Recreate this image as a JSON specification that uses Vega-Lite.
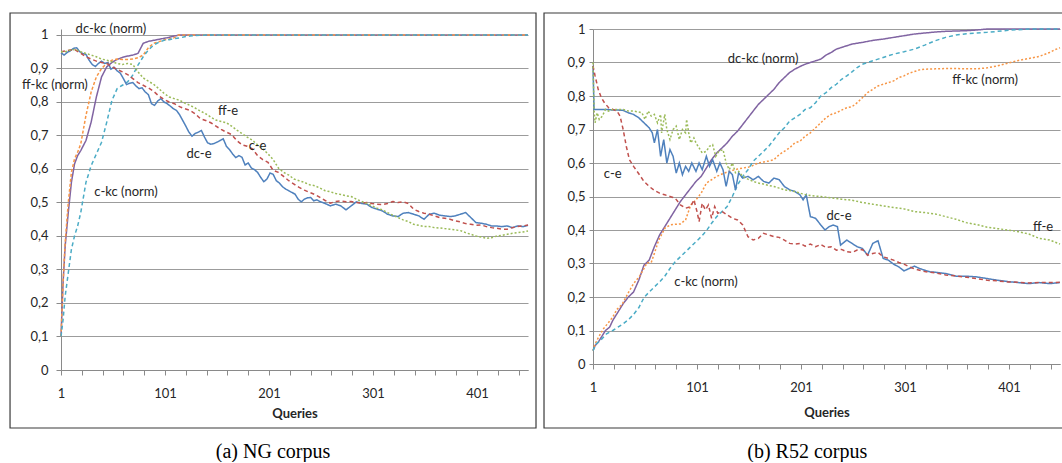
{
  "$schema": "https://vega.github.io/schema/vega-lite/v6.json",
  "padding": {"left": 9, "top": 12, "right": 0, "bottom": 0},
  "background": "white",
  "spacing": 6,
  "config": {
    "view": {"stroke": null},
    "axis": {"labelFont": "Lato", "titleFont": "Lato", "labelFontSize": 13, "labelColor": "#262626", "titleColor": "#262626", "gridColor": "#9c9c9c", "gridWidth": 1.2, "domainColor": "#8a8a8a", "tickColor": "#8a8a8a", "labelOverlap": false, "labelFlush": false},
    "text": {"font": "Lato", "fontSize": 13, "color": "#262626"}
  },
  "datasets": {
    "ng": [
      {"s":"dk","x":1,"y":0.1},{"s":"dk","x":3,"y":0.26},{"s":"dk","x":5,"y":0.37},{"s":"dk","x":8,"y":0.47},{"s":"dk","x":11,"y":0.56},{"s":"dk","x":14,"y":0.615},{"s":"dk","x":17,"y":0.64},{"s":"dk","x":20,"y":0.655},{"s":"dk","x":25,"y":0.685},{"s":"dk","x":30,"y":0.74},{"s":"dk","x":35,"y":0.815},{"s":"dk","x":40,"y":0.875},{"s":"dk","x":45,"y":0.905},{"s":"dk","x":50,"y":0.918},{"s":"dk","x":55,"y":0.927},{"s":"dk","x":60,"y":0.933},{"s":"dk","x":65,"y":0.937},{"s":"dk","x":70,"y":0.94},{"s":"dk","x":75,"y":0.945},{"s":"dk","x":80,"y":0.975},{"s":"dk","x":85,"y":0.981},{"s":"dk","x":90,"y":0.984},{"s":"dk","x":95,"y":0.987},{"s":"dk","x":100,"y":0.99},{"s":"dk","x":105,"y":0.993},{"s":"dk","x":110,"y":0.997},{"s":"dk","x":115,"y":1},{"s":"dk","x":450,"y":1},
      {"s":"fk","x":1,"y":0.1},{"s":"fk","x":3,"y":0.26},{"s":"fk","x":5,"y":0.38},{"s":"fk","x":8,"y":0.5},{"s":"fk","x":11,"y":0.59},{"s":"fk","x":14,"y":0.63},{"s":"fk","x":17,"y":0.65},{"s":"fk","x":20,"y":0.675},{"s":"fk","x":25,"y":0.76},{"s":"fk","x":30,"y":0.83},{"s":"fk","x":35,"y":0.875},{"s":"fk","x":40,"y":0.9},{"s":"fk","x":45,"y":0.915},{"s":"fk","x":50,"y":0.925},{"s":"fk","x":55,"y":0.928},{"s":"fk","x":60,"y":0.927},{"s":"fk","x":65,"y":0.927},{"s":"fk","x":70,"y":0.928},{"s":"fk","x":75,"y":0.932},{"s":"fk","x":80,"y":0.94},{"s":"fk","x":85,"y":0.962},{"s":"fk","x":90,"y":0.975},{"s":"fk","x":95,"y":0.98},{"s":"fk","x":100,"y":0.985},{"s":"fk","x":105,"y":0.988},{"s":"fk","x":110,"y":0.992},{"s":"fk","x":114,"y":1},{"s":"fk","x":450,"y":1},
      {"s":"ck","x":1,"y":0.1},{"s":"ck","x":3,"y":0.15},{"s":"ck","x":5,"y":0.22},{"s":"ck","x":8,"y":0.29},{"s":"ck","x":11,"y":0.36},{"s":"ck","x":14,"y":0.4},{"s":"ck","x":17,"y":0.43},{"s":"ck","x":20,"y":0.47},{"s":"ck","x":25,"y":0.56},{"s":"ck","x":30,"y":0.61},{"s":"ck","x":35,"y":0.645},{"s":"ck","x":40,"y":0.68},{"s":"ck","x":45,"y":0.74},{"s":"ck","x":50,"y":0.805},{"s":"ck","x":55,"y":0.84},{"s":"ck","x":60,"y":0.85},{"s":"ck","x":65,"y":0.86},{"s":"ck","x":70,"y":0.88},{"s":"ck","x":75,"y":0.91},{"s":"ck","x":80,"y":0.935},{"s":"ck","x":85,"y":0.955},{"s":"ck","x":90,"y":0.97},{"s":"ck","x":95,"y":0.978},{"s":"ck","x":100,"y":0.984},{"s":"ck","x":105,"y":0.986},{"s":"ck","x":110,"y":0.989},{"s":"ck","x":115,"y":0.991},{"s":"ck","x":120,"y":0.995},{"s":"ck","x":125,"y":0.997},{"s":"ck","x":130,"y":0.998},{"s":"ck","x":135,"y":0.999},{"s":"ck","x":142,"y":1},{"s":"ck","x":450,"y":1},
      {"s":"de","x":1,"y":0.947},{"s":"de","x":4,"y":0.94},{"s":"de","x":7,"y":0.948},{"s":"de","x":10,"y":0.953},{"s":"de","x":13,"y":0.96},{"s":"de","x":16,"y":0.962},{"s":"de","x":19,"y":0.95},{"s":"de","x":22,"y":0.945},{"s":"de","x":25,"y":0.942},{"s":"de","x":28,"y":0.925},{"s":"de","x":31,"y":0.912},{"s":"de","x":34,"y":0.906},{"s":"de","x":37,"y":0.915},{"s":"de","x":40,"y":0.922},{"s":"de","x":43,"y":0.915},{"s":"de","x":46,"y":0.918},{"s":"de","x":49,"y":0.898},{"s":"de","x":52,"y":0.904},{"s":"de","x":55,"y":0.893},{"s":"de","x":58,"y":0.886},{"s":"de","x":61,"y":0.87},{"s":"de","x":64,"y":0.852},{"s":"de","x":67,"y":0.856},{"s":"de","x":70,"y":0.858},{"s":"de","x":73,"y":0.848},{"s":"de","x":76,"y":0.84},{"s":"de","x":79,"y":0.842},{"s":"de","x":82,"y":0.83},{"s":"de","x":85,"y":0.822},{"s":"de","x":88,"y":0.795},{"s":"de","x":91,"y":0.79},{"s":"de","x":94,"y":0.803},{"s":"de","x":97,"y":0.81},{"s":"de","x":100,"y":0.8},{"s":"de","x":103,"y":0.795},{"s":"de","x":106,"y":0.788},{"s":"de","x":109,"y":0.78},{"s":"de","x":112,"y":0.775},{"s":"de","x":115,"y":0.762},{"s":"de","x":118,"y":0.745},{"s":"de","x":121,"y":0.728},{"s":"de","x":124,"y":0.71},{"s":"de","x":127,"y":0.698},{"s":"de","x":130,"y":0.706},{"s":"de","x":133,"y":0.71},{"s":"de","x":136,"y":0.715},{"s":"de","x":139,"y":0.695},{"s":"de","x":142,"y":0.678},{"s":"de","x":145,"y":0.674},{"s":"de","x":148,"y":0.676},{"s":"de","x":151,"y":0.68},{"s":"de","x":154,"y":0.685},{"s":"de","x":157,"y":0.69},{"s":"de","x":160,"y":0.668},{"s":"de","x":163,"y":0.658},{"s":"de","x":166,"y":0.645},{"s":"de","x":169,"y":0.634},{"s":"de","x":172,"y":0.64},{"s":"de","x":175,"y":0.635},{"s":"de","x":178,"y":0.612},{"s":"de","x":181,"y":0.618},{"s":"de","x":184,"y":0.603},{"s":"de","x":187,"y":0.598},{"s":"de","x":190,"y":0.59},{"s":"de","x":193,"y":0.575},{"s":"de","x":196,"y":0.562},{"s":"de","x":199,"y":0.57},{"s":"de","x":202,"y":0.588},{"s":"de","x":205,"y":0.584},{"s":"de","x":208,"y":0.565},{"s":"de","x":211,"y":0.558},{"s":"de","x":214,"y":0.547},{"s":"de","x":217,"y":0.54},{"s":"de","x":220,"y":0.535},{"s":"de","x":223,"y":0.53},{"s":"de","x":226,"y":0.525},{"s":"de","x":229,"y":0.51},{"s":"de","x":232,"y":0.502},{"s":"de","x":235,"y":0.51},{"s":"de","x":238,"y":0.514},{"s":"de","x":241,"y":0.515},{"s":"de","x":244,"y":0.505},{"s":"de","x":247,"y":0.508},{"s":"de","x":250,"y":0.503},{"s":"de","x":255,"y":0.497},{"s":"de","x":260,"y":0.49},{"s":"de","x":265,"y":0.495},{"s":"de","x":270,"y":0.49},{"s":"de","x":275,"y":0.478},{"s":"de","x":280,"y":0.49},{"s":"de","x":285,"y":0.502},{"s":"de","x":290,"y":0.497},{"s":"de","x":295,"y":0.495},{"s":"de","x":300,"y":0.485},{"s":"de","x":305,"y":0.48},{"s":"de","x":310,"y":0.475},{"s":"de","x":315,"y":0.465},{"s":"de","x":320,"y":0.46},{"s":"de","x":325,"y":0.458},{"s":"de","x":330,"y":0.468},{"s":"de","x":335,"y":0.47},{"s":"de","x":340,"y":0.465},{"s":"de","x":345,"y":0.46},{"s":"de","x":350,"y":0.45},{"s":"de","x":355,"y":0.465},{"s":"de","x":360,"y":0.468},{"s":"de","x":365,"y":0.462},{"s":"de","x":370,"y":0.46},{"s":"de","x":375,"y":0.458},{"s":"de","x":380,"y":0.46},{"s":"de","x":385,"y":0.465},{"s":"de","x":390,"y":0.47},{"s":"de","x":395,"y":0.455},{"s":"de","x":400,"y":0.44},{"s":"de","x":405,"y":0.438},{"s":"de","x":410,"y":0.435},{"s":"de","x":415,"y":0.43},{"s":"de","x":420,"y":0.43},{"s":"de","x":425,"y":0.428},{"s":"de","x":430,"y":0.43},{"s":"de","x":435,"y":0.425},{"s":"de","x":440,"y":0.43},{"s":"de","x":445,"y":0.428},{"s":"de","x":450,"y":0.432},
      {"s":"ce","x":1,"y":0.95},{"s":"ce","x":5,"y":0.952},{"s":"ce","x":10,"y":0.955},{"s":"ce","x":15,"y":0.955},{"s":"ce","x":20,"y":0.945},{"s":"ce","x":25,"y":0.935},{"s":"ce","x":30,"y":0.928},{"s":"ce","x":35,"y":0.922},{"s":"ce","x":40,"y":0.918},{"s":"ce","x":45,"y":0.915},{"s":"ce","x":50,"y":0.905},{"s":"ce","x":55,"y":0.897},{"s":"ce","x":60,"y":0.89},{"s":"ce","x":65,"y":0.882},{"s":"ce","x":70,"y":0.87},{"s":"ce","x":75,"y":0.858},{"s":"ce","x":80,"y":0.85},{"s":"ce","x":85,"y":0.842},{"s":"ce","x":90,"y":0.832},{"s":"ce","x":95,"y":0.818},{"s":"ce","x":100,"y":0.808},{"s":"ce","x":105,"y":0.8},{"s":"ce","x":110,"y":0.795},{"s":"ce","x":115,"y":0.786},{"s":"ce","x":120,"y":0.78},{"s":"ce","x":125,"y":0.775},{"s":"ce","x":130,"y":0.765},{"s":"ce","x":135,"y":0.75},{"s":"ce","x":140,"y":0.745},{"s":"ce","x":145,"y":0.738},{"s":"ce","x":150,"y":0.728},{"s":"ce","x":155,"y":0.718},{"s":"ce","x":160,"y":0.71},{"s":"ce","x":165,"y":0.703},{"s":"ce","x":170,"y":0.685},{"s":"ce","x":175,"y":0.672},{"s":"ce","x":180,"y":0.668},{"s":"ce","x":185,"y":0.66},{"s":"ce","x":190,"y":0.64},{"s":"ce","x":195,"y":0.628},{"s":"ce","x":200,"y":0.62},{"s":"ce","x":205,"y":0.596},{"s":"ce","x":210,"y":0.59},{"s":"ce","x":215,"y":0.578},{"s":"ce","x":220,"y":0.565},{"s":"ce","x":225,"y":0.555},{"s":"ce","x":230,"y":0.545},{"s":"ce","x":235,"y":0.537},{"s":"ce","x":240,"y":0.53},{"s":"ce","x":245,"y":0.524},{"s":"ce","x":250,"y":0.515},{"s":"ce","x":255,"y":0.506},{"s":"ce","x":260,"y":0.498},{"s":"ce","x":265,"y":0.503},{"s":"ce","x":270,"y":0.505},{"s":"ce","x":275,"y":0.502},{"s":"ce","x":280,"y":0.503},{"s":"ce","x":285,"y":0.5},{"s":"ce","x":290,"y":0.498},{"s":"ce","x":295,"y":0.5},{"s":"ce","x":300,"y":0.497},{"s":"ce","x":305,"y":0.495},{"s":"ce","x":310,"y":0.494},{"s":"ce","x":315,"y":0.497},{"s":"ce","x":320,"y":0.503},{"s":"ce","x":325,"y":0.5},{"s":"ce","x":330,"y":0.502},{"s":"ce","x":335,"y":0.497},{"s":"ce","x":340,"y":0.48},{"s":"ce","x":345,"y":0.473},{"s":"ce","x":350,"y":0.468},{"s":"ce","x":355,"y":0.465},{"s":"ce","x":360,"y":0.46},{"s":"ce","x":365,"y":0.455},{"s":"ce","x":370,"y":0.453},{"s":"ce","x":375,"y":0.45},{"s":"ce","x":380,"y":0.445},{"s":"ce","x":385,"y":0.442},{"s":"ce","x":390,"y":0.437},{"s":"ce","x":395,"y":0.435},{"s":"ce","x":400,"y":0.432},{"s":"ce","x":405,"y":0.433},{"s":"ce","x":410,"y":0.428},{"s":"ce","x":415,"y":0.425},{"s":"ce","x":420,"y":0.423},{"s":"ce","x":425,"y":0.42},{"s":"ce","x":430,"y":0.42},{"s":"ce","x":435,"y":0.425},{"s":"ce","x":440,"y":0.428},{"s":"ce","x":445,"y":0.43},{"s":"ce","x":450,"y":0.433},
      {"s":"fe","x":1,"y":0.95},{"s":"fe","x":5,"y":0.95},{"s":"fe","x":10,"y":0.955},{"s":"fe","x":15,"y":0.957},{"s":"fe","x":20,"y":0.95},{"s":"fe","x":25,"y":0.945},{"s":"fe","x":30,"y":0.94},{"s":"fe","x":35,"y":0.935},{"s":"fe","x":40,"y":0.928},{"s":"fe","x":45,"y":0.925},{"s":"fe","x":50,"y":0.92},{"s":"fe","x":55,"y":0.915},{"s":"fe","x":60,"y":0.912},{"s":"fe","x":65,"y":0.915},{"s":"fe","x":70,"y":0.912},{"s":"fe","x":75,"y":0.89},{"s":"fe","x":80,"y":0.872},{"s":"fe","x":85,"y":0.862},{"s":"fe","x":90,"y":0.853},{"s":"fe","x":95,"y":0.84},{"s":"fe","x":100,"y":0.826},{"s":"fe","x":105,"y":0.815},{"s":"fe","x":110,"y":0.81},{"s":"fe","x":115,"y":0.805},{"s":"fe","x":120,"y":0.797},{"s":"fe","x":125,"y":0.79},{"s":"fe","x":130,"y":0.782},{"s":"fe","x":135,"y":0.773},{"s":"fe","x":140,"y":0.765},{"s":"fe","x":145,"y":0.755},{"s":"fe","x":150,"y":0.746},{"s":"fe","x":155,"y":0.742},{"s":"fe","x":160,"y":0.738},{"s":"fe","x":165,"y":0.728},{"s":"fe","x":170,"y":0.716},{"s":"fe","x":175,"y":0.706},{"s":"fe","x":180,"y":0.695},{"s":"fe","x":185,"y":0.686},{"s":"fe","x":190,"y":0.672},{"s":"fe","x":195,"y":0.66},{"s":"fe","x":200,"y":0.645},{"s":"fe","x":205,"y":0.628},{"s":"fe","x":210,"y":0.603},{"s":"fe","x":215,"y":0.59},{"s":"fe","x":220,"y":0.582},{"s":"fe","x":225,"y":0.57},{"s":"fe","x":230,"y":0.565},{"s":"fe","x":235,"y":0.56},{"s":"fe","x":240,"y":0.553},{"s":"fe","x":245,"y":0.55},{"s":"fe","x":250,"y":0.543},{"s":"fe","x":255,"y":0.535},{"s":"fe","x":260,"y":0.532},{"s":"fe","x":265,"y":0.527},{"s":"fe","x":270,"y":0.524},{"s":"fe","x":275,"y":0.52},{"s":"fe","x":280,"y":0.518},{"s":"fe","x":285,"y":0.51},{"s":"fe","x":290,"y":0.503},{"s":"fe","x":295,"y":0.497},{"s":"fe","x":300,"y":0.49},{"s":"fe","x":305,"y":0.483},{"s":"fe","x":310,"y":0.478},{"s":"fe","x":315,"y":0.47},{"s":"fe","x":320,"y":0.462},{"s":"fe","x":325,"y":0.455},{"s":"fe","x":330,"y":0.448},{"s":"fe","x":335,"y":0.443},{"s":"fe","x":340,"y":0.435},{"s":"fe","x":345,"y":0.432},{"s":"fe","x":350,"y":0.428},{"s":"fe","x":355,"y":0.428},{"s":"fe","x":360,"y":0.425},{"s":"fe","x":365,"y":0.424},{"s":"fe","x":370,"y":0.422},{"s":"fe","x":375,"y":0.42},{"s":"fe","x":380,"y":0.418},{"s":"fe","x":385,"y":0.416},{"s":"fe","x":390,"y":0.41},{"s":"fe","x":395,"y":0.405},{"s":"fe","x":400,"y":0.4},{"s":"fe","x":405,"y":0.397},{"s":"fe","x":410,"y":0.393},{"s":"fe","x":415,"y":0.395},{"s":"fe","x":420,"y":0.4},{"s":"fe","x":425,"y":0.402},{"s":"fe","x":430,"y":0.405},{"s":"fe","x":435,"y":0.408},{"s":"fe","x":440,"y":0.41},{"s":"fe","x":445,"y":0.412},{"s":"fe","x":450,"y":0.415}
    ],
    "ngLabels": [
      {"t":"dc-kc (norm)","x":49,"y":1.018},{"t":"ff-kc (norm)","x":-4.8,"y":0.851},{"t":"c-kc (norm)","x":63.5,"y":0.531},{"t":"dc-e","x":133.7,"y":0.645},{"t":"c-e","x":190,"y":0.669},{"t":"ff-e","x":161.6,"y":0.773}
    ],
    "r52": [
      {"s":"dk","x":1,"y":0.04},{"s":"dk","x":3,"y":0.055},{"s":"dk","x":6,"y":0.065},{"s":"dk","x":10,"y":0.085},{"s":"dk","x":13,"y":0.1},{"s":"dk","x":17,"y":0.11},{"s":"dk","x":20,"y":0.13},{"s":"dk","x":25,"y":0.155},{"s":"dk","x":30,"y":0.18},{"s":"dk","x":35,"y":0.2},{"s":"dk","x":40,"y":0.215},{"s":"dk","x":45,"y":0.25},{"s":"dk","x":50,"y":0.295},{"s":"dk","x":55,"y":0.31},{"s":"dk","x":60,"y":0.35},{"s":"dk","x":65,"y":0.385},{"s":"dk","x":70,"y":0.41},{"s":"dk","x":75,"y":0.435},{"s":"dk","x":80,"y":0.46},{"s":"dk","x":85,"y":0.485},{"s":"dk","x":90,"y":0.505},{"s":"dk","x":95,"y":0.525},{"s":"dk","x":100,"y":0.545},{"s":"dk","x":105,"y":0.56},{"s":"dk","x":110,"y":0.585},{"s":"dk","x":115,"y":0.61},{"s":"dk","x":120,"y":0.63},{"s":"dk","x":125,"y":0.645},{"s":"dk","x":130,"y":0.66},{"s":"dk","x":135,"y":0.68},{"s":"dk","x":140,"y":0.695},{"s":"dk","x":145,"y":0.715},{"s":"dk","x":150,"y":0.735},{"s":"dk","x":155,"y":0.755},{"s":"dk","x":160,"y":0.775},{"s":"dk","x":165,"y":0.79},{"s":"dk","x":170,"y":0.805},{"s":"dk","x":175,"y":0.82},{"s":"dk","x":180,"y":0.84},{"s":"dk","x":185,"y":0.855},{"s":"dk","x":190,"y":0.87},{"s":"dk","x":195,"y":0.88},{"s":"dk","x":200,"y":0.888},{"s":"dk","x":205,"y":0.895},{"s":"dk","x":210,"y":0.9},{"s":"dk","x":215,"y":0.905},{"s":"dk","x":220,"y":0.91},{"s":"dk","x":225,"y":0.922},{"s":"dk","x":230,"y":0.93},{"s":"dk","x":235,"y":0.94},{"s":"dk","x":240,"y":0.945},{"s":"dk","x":250,"y":0.955},{"s":"dk","x":260,"y":0.96},{"s":"dk","x":270,"y":0.966},{"s":"dk","x":280,"y":0.97},{"s":"dk","x":290,"y":0.975},{"s":"dk","x":300,"y":0.98},{"s":"dk","x":310,"y":0.985},{"s":"dk","x":320,"y":0.988},{"s":"dk","x":330,"y":0.991},{"s":"dk","x":340,"y":0.993},{"s":"dk","x":350,"y":0.994},{"s":"dk","x":360,"y":0.995},{"s":"dk","x":370,"y":0.997},{"s":"dk","x":380,"y":1},{"s":"dk","x":450,"y":1},
      {"s":"fk","x":1,"y":0.04},{"s":"fk","x":3,"y":0.06},{"s":"fk","x":6,"y":0.078},{"s":"fk","x":11,"y":0.105},{"s":"fk","x":17,"y":0.128},{"s":"fk","x":20,"y":0.14},{"s":"fk","x":24,"y":0.163},{"s":"fk","x":29,"y":0.178},{"s":"fk","x":35,"y":0.213},{"s":"fk","x":40,"y":0.24},{"s":"fk","x":46,"y":0.263},{"s":"fk","x":50,"y":0.285},{"s":"fk","x":53,"y":0.302},{"s":"fk","x":57,"y":0.303},{"s":"fk","x":60,"y":0.33},{"s":"fk","x":64,"y":0.368},{"s":"fk","x":70,"y":0.405},{"s":"fk","x":75,"y":0.415},{"s":"fk","x":80,"y":0.417},{"s":"fk","x":85,"y":0.418},{"s":"fk","x":90,"y":0.43},{"s":"fk","x":95,"y":0.475},{"s":"fk","x":100,"y":0.49},{"s":"fk","x":105,"y":0.51},{"s":"fk","x":110,"y":0.54},{"s":"fk","x":115,"y":0.55},{"s":"fk","x":120,"y":0.56},{"s":"fk","x":125,"y":0.567},{"s":"fk","x":130,"y":0.573},{"s":"fk","x":135,"y":0.578},{"s":"fk","x":140,"y":0.582},{"s":"fk","x":145,"y":0.585},{"s":"fk","x":150,"y":0.587},{"s":"fk","x":155,"y":0.593},{"s":"fk","x":160,"y":0.6},{"s":"fk","x":165,"y":0.603},{"s":"fk","x":170,"y":0.606},{"s":"fk","x":175,"y":0.61},{"s":"fk","x":180,"y":0.625},{"s":"fk","x":185,"y":0.635},{"s":"fk","x":190,"y":0.645},{"s":"fk","x":195,"y":0.66},{"s":"fk","x":200,"y":0.665},{"s":"fk","x":205,"y":0.68},{"s":"fk","x":210,"y":0.69},{"s":"fk","x":215,"y":0.705},{"s":"fk","x":220,"y":0.72},{"s":"fk","x":225,"y":0.735},{"s":"fk","x":230,"y":0.745},{"s":"fk","x":235,"y":0.75},{"s":"fk","x":240,"y":0.758},{"s":"fk","x":245,"y":0.765},{"s":"fk","x":250,"y":0.768},{"s":"fk","x":255,"y":0.78},{"s":"fk","x":260,"y":0.795},{"s":"fk","x":265,"y":0.81},{"s":"fk","x":270,"y":0.82},{"s":"fk","x":275,"y":0.83},{"s":"fk","x":280,"y":0.835},{"s":"fk","x":285,"y":0.84},{"s":"fk","x":290,"y":0.845},{"s":"fk","x":295,"y":0.855},{"s":"fk","x":300,"y":0.86},{"s":"fk","x":305,"y":0.868},{"s":"fk","x":310,"y":0.873},{"s":"fk","x":315,"y":0.878},{"s":"fk","x":320,"y":0.88},{"s":"fk","x":330,"y":0.881},{"s":"fk","x":340,"y":0.882},{"s":"fk","x":350,"y":0.882},{"s":"fk","x":360,"y":0.881},{"s":"fk","x":370,"y":0.881},{"s":"fk","x":380,"y":0.884},{"s":"fk","x":390,"y":0.89},{"s":"fk","x":400,"y":0.898},{"s":"fk","x":410,"y":0.906},{"s":"fk","x":420,"y":0.912},{"s":"fk","x":430,"y":0.918},{"s":"fk","x":440,"y":0.93},{"s":"fk","x":445,"y":0.938},{"s":"fk","x":450,"y":0.944},
      {"s":"ck","x":1,"y":0.04},{"s":"ck","x":4,"y":0.06},{"s":"ck","x":8,"y":0.07},{"s":"ck","x":14,"y":0.09},{"s":"ck","x":20,"y":0.1},{"s":"ck","x":25,"y":0.11},{"s":"ck","x":30,"y":0.12},{"s":"ck","x":35,"y":0.132},{"s":"ck","x":40,"y":0.148},{"s":"ck","x":45,"y":0.168},{"s":"ck","x":50,"y":0.198},{"s":"ck","x":55,"y":0.215},{"s":"ck","x":60,"y":0.23},{"s":"ck","x":65,"y":0.245},{"s":"ck","x":70,"y":0.262},{"s":"ck","x":75,"y":0.285},{"s":"ck","x":80,"y":0.305},{"s":"ck","x":85,"y":0.32},{"s":"ck","x":90,"y":0.335},{"s":"ck","x":95,"y":0.35},{"s":"ck","x":100,"y":0.365},{"s":"ck","x":105,"y":0.38},{"s":"ck","x":110,"y":0.398},{"s":"ck","x":115,"y":0.42},{"s":"ck","x":120,"y":0.44},{"s":"ck","x":125,"y":0.455},{"s":"ck","x":130,"y":0.47},{"s":"ck","x":135,"y":0.5},{"s":"ck","x":140,"y":0.535},{"s":"ck","x":145,"y":0.56},{"s":"ck","x":150,"y":0.58},{"s":"ck","x":155,"y":0.605},{"s":"ck","x":160,"y":0.62},{"s":"ck","x":165,"y":0.635},{"s":"ck","x":170,"y":0.65},{"s":"ck","x":175,"y":0.67},{"s":"ck","x":180,"y":0.69},{"s":"ck","x":185,"y":0.705},{"s":"ck","x":190,"y":0.725},{"s":"ck","x":195,"y":0.735},{"s":"ck","x":200,"y":0.745},{"s":"ck","x":205,"y":0.76},{"s":"ck","x":210,"y":0.765},{"s":"ck","x":215,"y":0.78},{"s":"ck","x":220,"y":0.8},{"s":"ck","x":225,"y":0.81},{"s":"ck","x":230,"y":0.825},{"s":"ck","x":235,"y":0.835},{"s":"ck","x":240,"y":0.85},{"s":"ck","x":245,"y":0.86},{"s":"ck","x":250,"y":0.872},{"s":"ck","x":255,"y":0.885},{"s":"ck","x":260,"y":0.895},{"s":"ck","x":265,"y":0.9},{"s":"ck","x":270,"y":0.905},{"s":"ck","x":275,"y":0.91},{"s":"ck","x":280,"y":0.915},{"s":"ck","x":290,"y":0.925},{"s":"ck","x":300,"y":0.932},{"s":"ck","x":310,"y":0.94},{"s":"ck","x":320,"y":0.952},{"s":"ck","x":330,"y":0.965},{"s":"ck","x":340,"y":0.975},{"s":"ck","x":350,"y":0.982},{"s":"ck","x":360,"y":0.986},{"s":"ck","x":370,"y":0.988},{"s":"ck","x":380,"y":0.99},{"s":"ck","x":390,"y":0.993},{"s":"ck","x":400,"y":0.996},{"s":"ck","x":410,"y":0.998},{"s":"ck","x":420,"y":1},{"s":"ck","x":450,"y":1},
      {"s":"de","x":1,"y":0.89},{"s":"de","x":2,"y":0.76},{"s":"de","x":5,"y":0.76},{"s":"de","x":10,"y":0.76},{"s":"de","x":15,"y":0.76},{"s":"de","x":20,"y":0.758},{"s":"de","x":25,"y":0.758},{"s":"de","x":30,"y":0.757},{"s":"de","x":35,"y":0.75},{"s":"de","x":40,"y":0.745},{"s":"de","x":45,"y":0.735},{"s":"de","x":50,"y":0.72},{"s":"de","x":55,"y":0.705},{"s":"de","x":58,"y":0.69},{"s":"de","x":60,"y":0.66},{"s":"de","x":63,"y":0.7},{"s":"de","x":66,"y":0.62},{"s":"de","x":69,"y":0.67},{"s":"de","x":72,"y":0.6},{"s":"de","x":75,"y":0.64},{"s":"de","x":78,"y":0.62},{"s":"de","x":81,"y":0.57},{"s":"de","x":84,"y":0.6},{"s":"de","x":87,"y":0.565},{"s":"de","x":90,"y":0.59},{"s":"de","x":93,"y":0.575},{"s":"de","x":96,"y":0.6},{"s":"de","x":100,"y":0.575},{"s":"de","x":103,"y":0.6},{"s":"de","x":106,"y":0.58},{"s":"de","x":110,"y":0.62},{"s":"de","x":113,"y":0.59},{"s":"de","x":116,"y":0.61},{"s":"de","x":120,"y":0.575},{"s":"de","x":123,"y":0.6},{"s":"de","x":126,"y":0.58},{"s":"de","x":129,"y":0.53},{"s":"de","x":132,"y":0.575},{"s":"de","x":135,"y":0.565},{"s":"de","x":138,"y":0.52},{"s":"de","x":141,"y":0.57},{"s":"de","x":145,"y":0.555},{"s":"de","x":150,"y":0.56},{"s":"de","x":155,"y":0.55},{"s":"de","x":160,"y":0.56},{"s":"de","x":165,"y":0.545},{"s":"de","x":170,"y":0.54},{"s":"de","x":175,"y":0.555},{"s":"de","x":180,"y":0.55},{"s":"de","x":185,"y":0.53},{"s":"de","x":190,"y":0.52},{"s":"de","x":195,"y":0.515},{"s":"de","x":200,"y":0.505},{"s":"de","x":203,"y":0.49},{"s":"de","x":206,"y":0.505},{"s":"de","x":210,"y":0.44},{"s":"de","x":215,"y":0.435},{"s":"de","x":220,"y":0.415},{"s":"de","x":224,"y":0.4},{"s":"de","x":228,"y":0.41},{"s":"de","x":232,"y":0.415},{"s":"de","x":236,"y":0.41},{"s":"de","x":239,"y":0.355},{"s":"de","x":245,"y":0.37},{"s":"de","x":250,"y":0.36},{"s":"de","x":255,"y":0.35},{"s":"de","x":260,"y":0.345},{"s":"de","x":265,"y":0.325},{"s":"de","x":270,"y":0.36},{"s":"de","x":275,"y":0.368},{"s":"de","x":280,"y":0.315},{"s":"de","x":285,"y":0.31},{"s":"de","x":290,"y":0.298},{"s":"de","x":295,"y":0.29},{"s":"de","x":300,"y":0.278},{"s":"de","x":305,"y":0.285},{"s":"de","x":310,"y":0.292},{"s":"de","x":315,"y":0.285},{"s":"de","x":320,"y":0.28},{"s":"de","x":325,"y":0.275},{"s":"de","x":330,"y":0.274},{"s":"de","x":340,"y":0.27},{"s":"de","x":350,"y":0.262},{"s":"de","x":360,"y":0.262},{"s":"de","x":370,"y":0.26},{"s":"de","x":380,"y":0.255},{"s":"de","x":390,"y":0.25},{"s":"de","x":400,"y":0.246},{"s":"de","x":410,"y":0.243},{"s":"de","x":420,"y":0.24},{"s":"de","x":430,"y":0.243},{"s":"de","x":440,"y":0.24},{"s":"de","x":450,"y":0.243},
      {"s":"ce","x":1,"y":0.89},{"s":"ce","x":3,"y":0.86},{"s":"ce","x":6,"y":0.82},{"s":"ce","x":9,"y":0.795},{"s":"ce","x":12,"y":0.78},{"s":"ce","x":16,"y":0.765},{"s":"ce","x":20,"y":0.76},{"s":"ce","x":24,"y":0.755},{"s":"ce","x":27,"y":0.74},{"s":"ce","x":30,"y":0.7},{"s":"ce","x":33,"y":0.65},{"s":"ce","x":36,"y":0.61},{"s":"ce","x":40,"y":0.59},{"s":"ce","x":45,"y":0.568},{"s":"ce","x":50,"y":0.545},{"s":"ce","x":55,"y":0.53},{"s":"ce","x":60,"y":0.518},{"s":"ce","x":65,"y":0.51},{"s":"ce","x":70,"y":0.505},{"s":"ce","x":75,"y":0.5},{"s":"ce","x":80,"y":0.495},{"s":"ce","x":85,"y":0.475},{"s":"ce","x":90,"y":0.465},{"s":"ce","x":95,"y":0.47},{"s":"ce","x":98,"y":0.49},{"s":"ce","x":101,"y":0.455},{"s":"ce","x":103,"y":0.425},{"s":"ce","x":106,"y":0.48},{"s":"ce","x":109,"y":0.46},{"s":"ce","x":112,"y":0.475},{"s":"ce","x":115,"y":0.435},{"s":"ce","x":118,"y":0.47},{"s":"ce","x":121,"y":0.45},{"s":"ce","x":125,"y":0.455},{"s":"ce","x":130,"y":0.445},{"s":"ce","x":135,"y":0.435},{"s":"ce","x":140,"y":0.43},{"s":"ce","x":145,"y":0.415},{"s":"ce","x":150,"y":0.38},{"s":"ce","x":155,"y":0.37},{"s":"ce","x":160,"y":0.375},{"s":"ce","x":165,"y":0.39},{"s":"ce","x":170,"y":0.385},{"s":"ce","x":175,"y":0.38},{"s":"ce","x":180,"y":0.378},{"s":"ce","x":185,"y":0.37},{"s":"ce","x":190,"y":0.36},{"s":"ce","x":195,"y":0.358},{"s":"ce","x":200,"y":0.36},{"s":"ce","x":205,"y":0.352},{"s":"ce","x":210,"y":0.358},{"s":"ce","x":215,"y":0.35},{"s":"ce","x":220,"y":0.357},{"s":"ce","x":225,"y":0.348},{"s":"ce","x":230,"y":0.35},{"s":"ce","x":235,"y":0.34},{"s":"ce","x":240,"y":0.342},{"s":"ce","x":245,"y":0.335},{"s":"ce","x":250,"y":0.333},{"s":"ce","x":255,"y":0.34},{"s":"ce","x":260,"y":0.342},{"s":"ce","x":265,"y":0.325},{"s":"ce","x":270,"y":0.33},{"s":"ce","x":275,"y":0.333},{"s":"ce","x":280,"y":0.32},{"s":"ce","x":285,"y":0.315},{"s":"ce","x":290,"y":0.31},{"s":"ce","x":295,"y":0.303},{"s":"ce","x":300,"y":0.298},{"s":"ce","x":305,"y":0.29},{"s":"ce","x":310,"y":0.284},{"s":"ce","x":315,"y":0.28},{"s":"ce","x":320,"y":0.276},{"s":"ce","x":330,"y":0.272},{"s":"ce","x":340,"y":0.266},{"s":"ce","x":350,"y":0.263},{"s":"ce","x":360,"y":0.259},{"s":"ce","x":370,"y":0.255},{"s":"ce","x":380,"y":0.25},{"s":"ce","x":390,"y":0.248},{"s":"ce","x":400,"y":0.245},{"s":"ce","x":410,"y":0.244},{"s":"ce","x":420,"y":0.242},{"s":"ce","x":430,"y":0.243},{"s":"ce","x":440,"y":0.243},{"s":"ce","x":450,"y":0.244},
      {"s":"fe","x":1,"y":0.9},{"s":"fe","x":2,"y":0.76},{"s":"fe","x":3,"y":0.72},{"s":"fe","x":5,"y":0.75},{"s":"fe","x":7,"y":0.73},{"s":"fe","x":10,"y":0.74},{"s":"fe","x":13,"y":0.76},{"s":"fe","x":16,"y":0.755},{"s":"fe","x":20,"y":0.76},{"s":"fe","x":25,"y":0.76},{"s":"fe","x":30,"y":0.76},{"s":"fe","x":35,"y":0.755},{"s":"fe","x":40,"y":0.755},{"s":"fe","x":45,"y":0.752},{"s":"fe","x":48,"y":0.75},{"s":"fe","x":51,"y":0.73},{"s":"fe","x":54,"y":0.755},{"s":"fe","x":57,"y":0.74},{"s":"fe","x":60,"y":0.745},{"s":"fe","x":63,"y":0.72},{"s":"fe","x":66,"y":0.745},{"s":"fe","x":67,"y":0.69},{"s":"fe","x":70,"y":0.745},{"s":"fe","x":72,"y":0.7},{"s":"fe","x":75,"y":0.67},{"s":"fe","x":78,"y":0.7},{"s":"fe","x":81,"y":0.71},{"s":"fe","x":84,"y":0.67},{"s":"fe","x":87,"y":0.7},{"s":"fe","x":90,"y":0.69},{"s":"fe","x":91,"y":0.73},{"s":"fe","x":93,"y":0.69},{"s":"fe","x":95,"y":0.66},{"s":"fe","x":98,"y":0.675},{"s":"fe","x":100,"y":0.66},{"s":"fe","x":103,"y":0.645},{"s":"fe","x":106,"y":0.63},{"s":"fe","x":110,"y":0.635},{"s":"fe","x":113,"y":0.65},{"s":"fe","x":116,"y":0.655},{"s":"fe","x":119,"y":0.62},{"s":"fe","x":122,"y":0.635},{"s":"fe","x":126,"y":0.64},{"s":"fe","x":129,"y":0.6},{"s":"fe","x":132,"y":0.58},{"s":"fe","x":135,"y":0.6},{"s":"fe","x":138,"y":0.571},{"s":"fe","x":141,"y":0.575},{"s":"fe","x":145,"y":0.56},{"s":"fe","x":150,"y":0.552},{"s":"fe","x":155,"y":0.545},{"s":"fe","x":160,"y":0.54},{"s":"fe","x":165,"y":0.537},{"s":"fe","x":170,"y":0.533},{"s":"fe","x":175,"y":0.53},{"s":"fe","x":180,"y":0.525},{"s":"fe","x":185,"y":0.52},{"s":"fe","x":190,"y":0.518},{"s":"fe","x":195,"y":0.515},{"s":"fe","x":200,"y":0.51},{"s":"fe","x":205,"y":0.506},{"s":"fe","x":210,"y":0.503},{"s":"fe","x":215,"y":0.501},{"s":"fe","x":220,"y":0.5},{"s":"fe","x":230,"y":0.496},{"s":"fe","x":240,"y":0.492},{"s":"fe","x":250,"y":0.489},{"s":"fe","x":260,"y":0.482},{"s":"fe","x":270,"y":0.477},{"s":"fe","x":280,"y":0.472},{"s":"fe","x":290,"y":0.467},{"s":"fe","x":300,"y":0.463},{"s":"fe","x":310,"y":0.455},{"s":"fe","x":320,"y":0.452},{"s":"fe","x":330,"y":0.448},{"s":"fe","x":340,"y":0.44},{"s":"fe","x":350,"y":0.432},{"s":"fe","x":360,"y":0.422},{"s":"fe","x":370,"y":0.416},{"s":"fe","x":380,"y":0.408},{"s":"fe","x":390,"y":0.404},{"s":"fe","x":400,"y":0.4},{"s":"fe","x":410,"y":0.395},{"s":"fe","x":420,"y":0.388},{"s":"fe","x":430,"y":0.375},{"s":"fe","x":440,"y":0.37},{"s":"fe","x":450,"y":0.358}
    ],
    "r52Labels": [
      {"t":"dc-kc (norm)","x":164.5,"y":0.91},{"t":"ff-kc (norm)","x":378,"y":0.848},{"t":"c-e","x":20,"y":0.567},{"t":"c-kc (norm)","x":109.7,"y":0.245},{"t":"dc-e","x":237.5,"y":0.442},{"t":"ff-e","x":433.7,"y":0.409}
    ]
  },
  "hconcat": [
    {
      "width": 467,
      "height": 341,
      "title": {"text": "(a) NG corpus", "orient": "bottom", "anchor": "middle", "frame": "bounds", "font": "Liberation Serif", "fontSize": 20, "fontWeight": "normal", "color": "#000000", "offset": 13},
      "layer": [
        {
          "data": {"name": "ng"},
          "mark": {"type": "line", "strokeWidth": 1.5},
          "encoding": {
            "x": {"field": "x", "type": "quantitative", "scale": {"domain": [1, 450], "nice": false, "zero": false},
              "axis": {"values": [1,21,41,61,81,101,121,141,161,181,201,221,241,261,281,301,321,341,361,381,401,421,441], "labelExpr": "(datum.value - 1) % 100 === 0 ? datum.label : ''", "grid": false, "tickSize": 5, "labelPadding": 12, "title": "Queries", "titleFontSize": 13, "titleFontWeight": "bold", "titlePadding": 7}},
            "y": {"field": "y", "type": "quantitative", "scale": {"domain": [0, 1.0179], "nice": false, "zero": false},
              "axis": {"values": [0,0.1,0.2,0.3,0.4,0.5,0.6,0.7,0.8,0.9,1], "labelExpr": "replace(format(datum.value, '.1~f'), '.', ',')", "grid": true, "tickSize": 5, "labelPadding": 8, "title": null}},
            "color": {"field": "s", "type": "nominal", "scale": {"domain": ["dk","fk","ck","de","ce","fe"], "range": ["#8064A2","#F79646","#4BACC6","#4F81BD","#C0504D","#9BBB59"]}, "legend": null},
            "strokeDash": {"field": "s", "type": "nominal", "scale": {"domain": ["dk","fk","ck","de","ce","fe"], "range": [[1,0],[3,2],[4,3],[1,0],[4,3],[2,2]]}, "legend": null}
          }
        },
        {
          "data": {"values": [{}]},
          "mark": {"type": "rect", "filled": false, "stroke": "#3a3a3a", "strokeWidth": 1.2, "clip": false},
          "encoding": {
            "x": {"datum": -48, "type": "quantitative",
              "axis": {"values": [1,21,41,61,81,101,121,141,161,181,201,221,241,261,281,301,321,341,361,381,401,421,441], "labelExpr": "(datum.value - 1) % 100 === 0 ? datum.label : ''", "grid": false, "tickSize": 5, "labelPadding": 12, "title": "Queries", "titleFontSize": 13, "titleFontWeight": "bold", "titlePadding": 7}},
            "x2": {"datum": 457.7},
            "y": {"datum": 1.0657, "type": "quantitative",
              "axis": {"values": [0,0.1,0.2,0.3,0.4,0.5,0.6,0.7,0.8,0.9,1], "labelExpr": "replace(format(datum.value, '.1~f'), '.', ',')", "grid": true, "tickSize": 5, "labelPadding": 8, "title": null}},
            "y2": {"datum": -0.1731}
          }
        },
        {
          "data": {"name": "ngLabels"},
          "mark": {"type": "text", "align": "center", "baseline": "middle", "clip": false},
          "encoding": {
            "x": {"field": "x", "type": "quantitative",
              "axis": {"values": [1,21,41,61,81,101,121,141,161,181,201,221,241,261,281,301,321,341,361,381,401,421,441], "labelExpr": "(datum.value - 1) % 100 === 0 ? datum.label : ''", "grid": false, "tickSize": 5, "labelPadding": 12, "title": "Queries", "titleFontSize": 13, "titleFontWeight": "bold", "titlePadding": 7}},
            "y": {"field": "y", "type": "quantitative",
              "axis": {"values": [0,0.1,0.2,0.3,0.4,0.5,0.6,0.7,0.8,0.9,1], "labelExpr": "replace(format(datum.value, '.1~f'), '.', ',')", "grid": true, "tickSize": 5, "labelPadding": 8, "title": null}},
            "text": {"field": "t"}
          }
        }
      ]
    },
    {
      "width": 467,
      "height": 335,
      "title": {"text": "(b) R52 corpus", "orient": "bottom", "anchor": "middle", "frame": "bounds", "font": "Liberation Serif", "fontSize": 20, "fontWeight": "normal", "color": "#000000", "offset": 13},
      "layer": [
        {
          "data": {"name": "r52"},
          "mark": {"type": "line", "strokeWidth": 1.5},
          "encoding": {
            "x": {"field": "x", "type": "quantitative", "scale": {"domain": [1, 450], "nice": false, "zero": false},
              "axis": {"values": [1,21,41,61,81,101,121,141,161,181,201,221,241,261,281,301,321,341,361,381,401,421,441], "labelExpr": "(datum.value - 1) % 100 === 0 ? datum.label : ''", "grid": false, "tickSize": 5, "labelPadding": 12, "title": "Queries", "titleFontSize": 13, "titleFontWeight": "bold", "titlePadding": 12}},
            "y": {"field": "y", "type": "quantitative", "scale": {"domain": [0, 1], "nice": false, "zero": false},
              "axis": {"values": [0,0.1,0.2,0.3,0.4,0.5,0.6,0.7,0.8,0.9,1], "labelExpr": "replace(format(datum.value, '.1~f'), '.', ',')", "grid": true, "tickSize": 4, "labelPadding": 4, "title": null}},
            "color": {"field": "s", "type": "nominal", "scale": {"domain": ["dk","fk","ck","de","ce","fe"], "range": ["#8064A2","#F79646","#4BACC6","#4F81BD","#C0504D","#9BBB59"]}, "legend": null},
            "strokeDash": {"field": "s", "type": "nominal", "scale": {"domain": ["dk","fk","ck","de","ce","fe"], "range": [[1,0],[2,2],[4,3],[1,0],[4,3],[2,2]]}, "legend": null}
          }
        },
        {
          "data": {"values": [{}]},
          "mark": {"type": "rect", "filled": false, "stroke": "#3a3a3a", "strokeWidth": 1.2, "clip": false},
          "encoding": {
            "x": {"datum": -46.1, "type": "quantitative",
              "axis": {"values": [1,21,41,61,81,101,121,141,161,181,201,221,241,261,281,301,321,341,361,381,401,421,441], "labelExpr": "(datum.value - 1) % 100 === 0 ? datum.label : ''", "grid": false, "tickSize": 5, "labelPadding": 12, "title": "Queries", "titleFontSize": 13, "titleFontWeight": "bold", "titlePadding": 12}},
            "x2": {"datum": 460},
            "y": {"datum": 1.0478, "type": "quantitative",
              "axis": {"values": [0,0.1,0.2,0.3,0.4,0.5,0.6,0.7,0.8,0.9,1], "labelExpr": "replace(format(datum.value, '.1~f'), '.', ',')", "grid": true, "tickSize": 4, "labelPadding": 4, "title": null}},
            "y2": {"datum": -0.191}
          }
        },
        {
          "data": {"name": "r52Labels"},
          "mark": {"type": "text", "align": "center", "baseline": "middle", "clip": false},
          "encoding": {
            "x": {"field": "x", "type": "quantitative",
              "axis": {"values": [1,21,41,61,81,101,121,141,161,181,201,221,241,261,281,301,321,341,361,381,401,421,441], "labelExpr": "(datum.value - 1) % 100 === 0 ? datum.label : ''", "grid": false, "tickSize": 5, "labelPadding": 12, "title": "Queries", "titleFontSize": 13, "titleFontWeight": "bold", "titlePadding": 12}},
            "y": {"field": "y", "type": "quantitative",
              "axis": {"values": [0,0.1,0.2,0.3,0.4,0.5,0.6,0.7,0.8,0.9,1], "labelExpr": "replace(format(datum.value, '.1~f'), '.', ',')", "grid": true, "tickSize": 4, "labelPadding": 4, "title": null}},
            "text": {"field": "t"}
          }
        }
      ]
    }
  ],
  "resolve": {"scale": {"color": "independent", "strokeDash": "independent"}}
}
